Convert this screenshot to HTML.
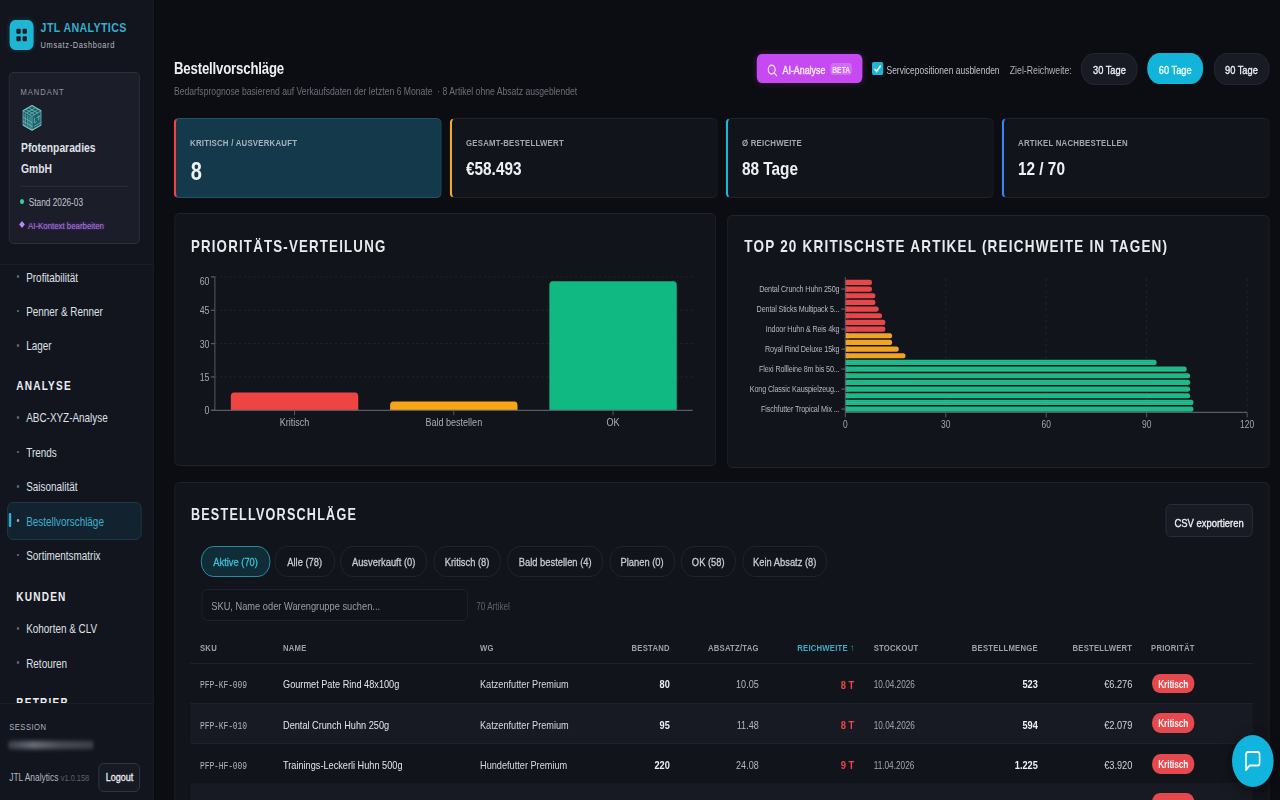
<!DOCTYPE html>
<html lang="de"><head><meta charset="utf-8"><title>Bestellvorschläge – JTL Analytics</title>
<style>
html,body{margin:0;padding:0;width:1280px;height:800px;overflow:hidden;background:#0c0d12;}
#root{position:absolute;left:0;top:0;width:1600px;height:800px;overflow:hidden;transform:scaleX(0.8);transform-origin:0 0;font-family:"Liberation Sans", Arial, sans-serif;}
.t{position:absolute;white-space:nowrap;line-height:1;}
.b{position:absolute;}
</style></head><body><div id="root">
<div class="b" style="left:0.00px;top:0.00px;width:190.50px;height:800.00px;background:#12151e;border-right:1.25px solid #1f222b;box-sizing:border-box;width:191.75px"></div>
<div class="b" style="left:11.5px;top:20px;width:30px;height:30px;border-radius:7px;background:#1fb6d6;box-shadow:0 0 6px rgba(34,180,213,.25)">
<svg width="30" height="30" viewBox="0 0 30 30" style="position:absolute;left:0;top:0">
<rect x="8.5" y="8.8" width="5.4" height="5" rx="1.2" fill="#0d1a22"/><rect x="16.2" y="8.8" width="5.4" height="5" rx="1.2" fill="#0d1a22"/>
<rect x="8.5" y="16.2" width="5.4" height="5" rx="1.2" fill="#0d1a22"/><rect x="16.2" y="16.2" width="5.4" height="5" rx="1.2" fill="#0d1a22"/>
</svg></div>
<div class="t" style="top:21.00px;font-size:13.3px;font-weight:700;color:#33aecd;letter-spacing:0.47px;left:50.75px;">JTL ANALYTICS</div>
<div class="t" style="top:41.00px;font-size:9.3px;font-weight:400;color:#b4b8c2;letter-spacing:0.8px;left:50.75px;">Umsatz-Dashboard</div>
<div class="b" style="left:11.25px;top:72.00px;width:163.45px;height:172.00px;border:1px solid #2c303c;border-radius:6px/5px;background:#1b1d29;box-sizing:border-box"></div>
<div class="t" style="top:87.00px;font-size:9.45px;font-weight:400;color:#9197a3;letter-spacing:1.2px;left:25.75px;">MANDANT</div>
<svg class="b" style="left:27.6px;top:105px" width="24" height="26" viewBox="0 0 24 26">
<path d="M12 0.6 L23.4 5.8 L23.4 19.9 L12 25.3 L0.6 19.9 L0.6 5.8 Z" fill="#215f68" stroke="#86cfd2" stroke-width="1.1" stroke-linejoin="round"/>
<g fill="none" stroke="#6cc4c9" stroke-width="0.9" opacity=".9">
<path d="M0.6 5.8 L12 11.2 L23.4 5.8 M12 11.2 L12 25.3"/>
<path d="M4 4.3 L15.4 9.6 M7.5 2.7 L18.9 8 M8.5 9.6 L19.9 4.3 M5 8 L16.4 2.7"/>
<path d="M3.5 8.5 L3.5 21.3 M6.8 10 L6.8 22.8 M9.6 11.4 L9.6 24.2 M0.6 12 L12 17.4 M0.6 16 L12 21.4"/>
<path d="M15 12.7 L15 18 L18 16.6 M20.5 10.5 L20.5 15.5 M14.5 21.5 L22.5 17.7 M17.5 13 L22.8 10.5"/>
</g></svg>
<div class="t" style="top:142.00px;font-size:12.9px;font-weight:700;color:#dfe1e7;left:26.25px;">Pfotenparadies</div>
<div class="t" style="top:163.00px;font-size:12.9px;font-weight:700;color:#dfe1e7;left:26.25px;">GmbH</div>
<div class="b" style="left:25.75px;top:185.50px;width:134.25px;height:1.00px;background:#262a35"></div>
<div class="b" style="left:25.30px;top:199.00px;width:5.20px;height:5.30px;border-radius:50%;background:#34d3a0"></div>
<div class="t" style="top:198.00px;font-size:10.35px;font-weight:400;color:#c3c6ce;left:35.94px;">Stand 2026-03</div>
<div class="b" style="left:25.30px;top:222.30px;width:5.00px;height:5.00px;background:#c084fc;transform:rotate(45deg)"></div>
<div class="t" style="top:221.00px;font-size:9.8px;font-weight:400;color:#b07ce6;left:35.12px;text-shadow:0 0 4px rgba(168,85,247,.6)">AI-Kontext bearbeiten</div>
<div class="b" style="left:0.00px;top:264.00px;width:190.50px;height:1.00px;background:#1c1f28"></div>
<div class="b" style="left:20.60px;top:275.40px;width:3.40px;height:2.90px;border-radius:50%;background:#5f6470"></div>
<div class="t" style="top:272.00px;font-size:12.4px;font-weight:400;color:#dfe1e6;left:32.75px;">Profitabilität</div>
<div class="b" style="left:20.60px;top:309.60px;width:3.40px;height:2.90px;border-radius:50%;background:#5f6470"></div>
<div class="t" style="top:306.00px;font-size:12.4px;font-weight:400;color:#dfe1e6;left:32.75px;">Penner &amp; Renner</div>
<div class="b" style="left:20.60px;top:344.00px;width:3.40px;height:2.90px;border-radius:50%;background:#5f6470"></div>
<div class="t" style="top:340.00px;font-size:12.4px;font-weight:400;color:#dfe1e6;left:32.75px;">Lager</div>
<div class="t" style="top:380.00px;font-size:12.6px;font-weight:700;color:#eceef2;letter-spacing:1.5px;left:20.31px;">ANALYSE</div>
<div class="b" style="left:20.60px;top:416.20px;width:3.40px;height:2.90px;border-radius:50%;background:#5f6470"></div>
<div class="t" style="top:412.00px;font-size:12.4px;font-weight:400;color:#dfe1e6;left:32.75px;">ABC-XYZ-Analyse</div>
<div class="b" style="left:20.60px;top:450.50px;width:3.40px;height:2.90px;border-radius:50%;background:#5f6470"></div>
<div class="t" style="top:447.00px;font-size:12.4px;font-weight:400;color:#dfe1e6;left:32.75px;">Trends</div>
<div class="b" style="left:20.60px;top:484.80px;width:3.40px;height:2.90px;border-radius:50%;background:#5f6470"></div>
<div class="t" style="top:481.00px;font-size:12.4px;font-weight:400;color:#dfe1e6;left:32.75px;">Saisonalität</div>
<div class="b" style="left:9.40px;top:502.00px;width:167.20px;height:38.00px;border:1px solid #1a3d4a;border-radius:7px;background:#13222f;box-sizing:border-box"></div>
<div class="b" style="left:10.90px;top:512.50px;width:3.10px;height:14.50px;background:#2bb5d5;border-radius:1px"></div>
<div class="b" style="left:20.60px;top:519.20px;width:3.40px;height:2.90px;border-radius:50%;background:#8fb0bb"></div>
<div class="t" style="top:516.00px;font-size:12.4px;font-weight:400;color:#3cb0cf;left:32.75px;">Bestellvorschläge</div>
<div class="b" style="left:20.60px;top:553.60px;width:3.40px;height:2.90px;border-radius:50%;background:#5f6470"></div>
<div class="t" style="top:550.00px;font-size:12.4px;font-weight:400;color:#dfe1e6;left:32.75px;">Sortimentsmatrix</div>
<div class="t" style="top:591.00px;font-size:12.6px;font-weight:700;color:#eceef2;letter-spacing:1.5px;left:20.31px;">KUNDEN</div>
<div class="b" style="left:20.60px;top:626.90px;width:3.40px;height:2.90px;border-radius:50%;background:#5f6470"></div>
<div class="t" style="top:623.00px;font-size:12.4px;font-weight:400;color:#dfe1e6;left:32.75px;">Kohorten &amp; CLV</div>
<div class="b" style="left:20.60px;top:661.20px;width:3.40px;height:2.90px;border-radius:50%;background:#5f6470"></div>
<div class="t" style="top:658.00px;font-size:12.4px;font-weight:400;color:#dfe1e6;left:32.75px;">Retouren</div>
<div class="b" style="left:0;top:690px;width:190px;height:13px;overflow:hidden"><div class="t" style="left:20.31px;top:6.83px;font-size:12.6px;font-weight:700;color:#eceef2;letter-spacing:1.5px">BETRIEB</div></div>
<div class="b" style="left:0.00px;top:702.50px;width:190.50px;height:1.00px;background:#1c1f28"></div>
<div class="t" style="top:722.00px;font-size:9.6px;font-weight:400;color:#aeb2ba;letter-spacing:0.55px;left:11.50px;">SESSION</div>
<div class="b" style="left:10.00px;top:741.00px;width:107.00px;height:7.50px;background:linear-gradient(90deg,#3a3e48,#6a6e78 30%,#4a4e58 60%,#3c404a);filter:blur(2.2px);border-radius:3px"></div>
<div class="t" style="top:772.00px;font-size:10.5px;font-weight:400;color:#b4b8c0;left:11.50px;">JTL Analytics <span style="font-size:9.3px;color:#5d626c">v1.0.158</span></div>
<div class="b" style="left:122.90px;top:763.20px;width:52.10px;height:28.40px;border:1px solid #343845;border-radius:6px;background:#171a23;box-sizing:border-box"></div>
<div class="t" style="top:772.00px;font-size:11.3px;font-weight:400;color:#eceef2;left:132.12px;-webkit-text-stroke:0.3px currentColor">Logout</div>
<div class="t" style="top:60.00px;font-size:16.5px;font-weight:700;color:#eeeff3;letter-spacing:-0.22px;left:217.50px;">Bestellvorschläge</div>
<div class="t" style="top:86.00px;font-size:10.77px;font-weight:400;color:#6a6f7a;left:217.50px;">Bedarfsprognose basierend auf Verkaufsdaten der letzten 6 Monate &nbsp;· 8 Artikel ohne Absatz ausgeblendet</div>
<div class="b" style="left:946.38px;top:54.10px;width:131.50px;height:29.10px;border-radius:6px;background:#c649f2;box-shadow:0 0 8px rgba(198,73,242,.25)"></div>
<svg class="b" style="left:959.38px;top:63.5px" width="13" height="13" viewBox="0 0 13 13"><circle cx="5.6" cy="5.6" r="4.3" fill="none" stroke="#f6e3fb" stroke-width="1.5"/><path d="M8.8 8.8 L11.8 11.8" stroke="#f6e3fb" stroke-width="1.5" stroke-linecap="round"/></svg>
<div class="t" style="top:65.00px;font-size:11.1px;font-weight:400;color:#fdf2ff;left:978.12px;-webkit-text-stroke:0.4px currentColor">AI-Analyse</div>
<div class="b" style="left:1038.00px;top:62.50px;width:27.00px;height:12.80px;border-radius:4px;background:rgba(255,255,255,.2)"></div>
<div class="t" style="top:66.00px;font-size:8.4px;font-weight:700;color:#fdf0ff;letter-spacing:0.1px;left:651.50px;width:800px;text-align:center;">BETA</div>
<div class="b" style="left:1089.88px;top:62.3px;width:13.9px;height:13.2px;border-radius:2px;background:#1fb4d4">
<svg width="14" height="13" viewBox="0 0 14 13" style="position:absolute;left:0;top:0"><path d="M3.2 6.8 L5.8 9.4 L10.8 3.6" fill="none" stroke="#e9fbff" stroke-width="1.8"/></svg></div>
<div class="t" style="top:65.00px;font-size:10.6px;font-weight:400;color:#c1c4cc;left:1108.12px;">Servicepositionen ausblenden</div>
<div class="t" style="top:65.00px;font-size:10.9px;font-weight:400;color:#b0b4bc;left:1262.25px;">Ziel-Reichweite:</div>
<div class="b" style="left:1351.25px;top:53.30px;width:71.00px;height:31.50px;border-radius:16px;background:#181a24;border:1px solid #262935;box-sizing:border-box"></div>
<div class="t" style="top:64.00px;font-size:11.6px;font-weight:400;color:#eef0f4;left:986.75px;width:800px;text-align:center;-webkit-text-stroke:0.35px currentColor">30 Tage</div>
<div class="b" style="left:1433.75px;top:53.30px;width:70.62px;height:31.10px;border-radius:16px;background:#12b4da"></div>
<div class="t" style="top:64.00px;font-size:11.6px;font-weight:400;color:#effbfe;left:1069.06px;width:800px;text-align:center;-webkit-text-stroke:0.35px currentColor">60 Tage</div>
<div class="b" style="left:1516.62px;top:53.30px;width:70.25px;height:31.50px;border-radius:16px;background:#181a24;border:1px solid #262935;box-sizing:border-box"></div>
<div class="t" style="top:64.00px;font-size:11.6px;font-weight:400;color:#eef0f4;left:1151.75px;width:800px;text-align:center;-webkit-text-stroke:0.35px currentColor">90 Tage</div>
<div class="b" style="left:216.90px;top:118.30px;width:335.20px;height:80.20px;background:#14394a;border:1px solid #1f5466;border-left:3px solid #ef4444;border-radius:6.5px/5.5px;box-sizing:border-box"></div>
<div class="t" style="top:138.00px;font-size:9.8px;font-weight:700;color:#a6b4be;letter-spacing:0.27px;left:237.50px;">KRITISCH / AUSVERKAUFT</div>
<div class="t" style="top:159.00px;font-size:25px;font-weight:700;color:#f0f4f6;left:238.40px;">8</div>
<div class="b" style="left:561.90px;top:118.30px;width:335.20px;height:80.20px;background:#12141c;border:1px solid #1f222b;border-left:3px solid #f0a830;border-radius:6.5px/5.5px;box-sizing:border-box"></div>
<div class="t" style="top:138.00px;font-size:9.8px;font-weight:700;color:#a3a7b0;letter-spacing:0.27px;left:582.50px;">GESAMT-BESTELLWERT</div>
<div class="t" style="top:159.00px;font-size:19.2px;font-weight:700;color:#eef0f3;left:582.50px;">€58.493</div>
<div class="b" style="left:906.90px;top:118.30px;width:335.20px;height:80.20px;background:#12141c;border:1px solid #1f222b;border-left:3px solid #22b5d6;border-radius:6.5px/5.5px;box-sizing:border-box"></div>
<div class="t" style="top:138.00px;font-size:9.8px;font-weight:700;color:#a3a7b0;letter-spacing:0.27px;left:927.50px;">Ø REICHWEITE</div>
<div class="t" style="top:159.00px;font-size:19.2px;font-weight:700;color:#eef0f3;left:927.50px;">88 Tage</div>
<div class="b" style="left:1251.90px;top:118.30px;width:335.20px;height:80.20px;background:#12141c;border:1px solid #1f222b;border-left:3px solid #3b82f6;border-radius:6.5px/5.5px;box-sizing:border-box"></div>
<div class="t" style="top:138.00px;font-size:9.8px;font-weight:700;color:#a3a7b0;letter-spacing:0.27px;left:1272.50px;">ARTIKEL NACHBESTELLEN</div>
<div class="t" style="top:159.00px;font-size:19.2px;font-weight:700;color:#eef0f3;left:1272.50px;">12 / 70</div>
<div class="b" style="left:217.50px;top:212.50px;width:677.80px;height:253.10px;background:#12141c;border:1px solid #1f222b;border-radius:6.5px/5.5px;box-sizing:border-box"></div>
<div class="b" style="left:909.25px;top:214.50px;width:677.65px;height:253.00px;background:#12141c;border:1px solid #1f222b;border-radius:6.5px/5.5px;box-sizing:border-box"></div>
<div class="t" style="top:239.00px;font-size:16.6px;font-weight:700;color:#e8eaee;letter-spacing:1.5px;left:238.62px;">PRIORITÄTS-VERTEILUNG</div>
<div class="t" style="top:239.00px;font-size:16.9px;font-weight:700;color:#e8eaee;letter-spacing:1.5px;left:930.37px;">TOP 20 KRITISCHSTE ARTIKEL (REICHWEITE IN TAGEN)</div>
<svg class="b" style="left:0;top:0" width="1600" height="800" viewBox="0 0 1600 800">
<line x1="268.625" y1="376.95" x2="865.875" y2="376.95" stroke="#23262f" stroke-width="1" stroke-dasharray="3 3"/>
<line x1="268.625" y1="343.60" x2="865.875" y2="343.60" stroke="#23262f" stroke-width="1" stroke-dasharray="3 3"/>
<line x1="268.625" y1="310.25" x2="865.875" y2="310.25" stroke="#23262f" stroke-width="1" stroke-dasharray="3 3"/>
<line x1="268.625" y1="276.90" x2="865.875" y2="276.90" stroke="#23262f" stroke-width="1" stroke-dasharray="3 3"/>
<line x1="268.625" y1="276.4" x2="268.625" y2="410.3" stroke="#585c66" stroke-width="1.2"/>
<line x1="263.625" y1="410.30" x2="268.625" y2="410.30" stroke="#585c66" stroke-width="1.2"/>
<text x="261.88" y="414.50" text-anchor="end" font-size="11" fill="#a4a8b1" font-family="Liberation Sans, Arial, sans-serif">0</text>
<line x1="263.625" y1="376.95" x2="268.625" y2="376.95" stroke="#585c66" stroke-width="1.2"/>
<text x="261.88" y="381.15" text-anchor="end" font-size="11" fill="#a4a8b1" font-family="Liberation Sans, Arial, sans-serif">15</text>
<line x1="263.625" y1="343.60" x2="268.625" y2="343.60" stroke="#585c66" stroke-width="1.2"/>
<text x="261.88" y="347.80" text-anchor="end" font-size="11" fill="#a4a8b1" font-family="Liberation Sans, Arial, sans-serif">30</text>
<line x1="263.625" y1="310.25" x2="268.625" y2="310.25" stroke="#585c66" stroke-width="1.2"/>
<text x="261.88" y="314.45" text-anchor="end" font-size="11" fill="#a4a8b1" font-family="Liberation Sans, Arial, sans-serif">45</text>
<line x1="263.625" y1="276.90" x2="268.625" y2="276.90" stroke="#585c66" stroke-width="1.2"/>
<text x="261.88" y="285.20" text-anchor="end" font-size="11" fill="#a4a8b1" font-family="Liberation Sans, Arial, sans-serif">60</text>
<path d="M288.53 410.3 L288.53 396.51 Q288.53 392.51 292.53 392.51 L443.80 392.51 Q447.80 392.51 447.80 396.51 L447.80 410.3 Z" fill="#ef4444"/>
<line x1="368.17" y1="410.3" x2="368.17" y2="415.3" stroke="#585c66" stroke-width="1.2"/>
<text x="368.17" y="426.50" text-anchor="middle" font-size="11.3" fill="#a9adb6" font-family="Liberation Sans, Arial, sans-serif">Kritisch</text>
<path d="M487.62 410.3 L487.62 405.41 Q487.62 401.41 491.62 401.41 L642.88 401.41 Q646.88 401.41 646.88 405.41 L646.88 410.3 Z" fill="#f5a516"/>
<line x1="567.25" y1="410.3" x2="567.25" y2="415.3" stroke="#585c66" stroke-width="1.2"/>
<text x="567.25" y="426.50" text-anchor="middle" font-size="11.3" fill="#a9adb6" font-family="Liberation Sans, Arial, sans-serif">Bald bestellen</text>
<path d="M686.70 410.3 L686.70 285.35 Q686.70 281.35 690.70 281.35 L841.97 281.35 Q845.97 281.35 845.97 285.35 L845.97 410.3 Z" fill="#10b981"/>
<line x1="766.33" y1="410.3" x2="766.33" y2="415.3" stroke="#585c66" stroke-width="1.2"/>
<text x="766.33" y="426.50" text-anchor="middle" font-size="11.3" fill="#a9adb6" font-family="Liberation Sans, Arial, sans-serif">OK</text>
<line x1="263.625" y1="410.3" x2="865.875" y2="410.3" stroke="#585c66" stroke-width="1.2"/>
<line x1="1182.19" y1="278.1" x2="1182.19" y2="412.4" stroke="#23262f" stroke-width="1" stroke-dasharray="3 3"/>
<line x1="1307.75" y1="278.1" x2="1307.75" y2="412.4" stroke="#23262f" stroke-width="1" stroke-dasharray="3 3"/>
<line x1="1433.31" y1="278.1" x2="1433.31" y2="412.4" stroke="#23262f" stroke-width="1" stroke-dasharray="3 3"/>
<line x1="1558.87" y1="278.1" x2="1558.87" y2="412.4" stroke="#23262f" stroke-width="1" stroke-dasharray="3 3"/>
<rect x="1056.62" y="279.83" width="33.48" height="5.20" rx="2.60" fill="#e8474a"/>
<rect x="1056.62" y="279.83" width="4" height="5.20" fill="#e8474a"/>
<rect x="1056.62" y="286.50" width="33.48" height="5.20" rx="2.60" fill="#e8474a"/>
<rect x="1056.62" y="286.50" width="4" height="5.20" fill="#e8474a"/>
<rect x="1056.62" y="293.16" width="37.67" height="5.20" rx="2.60" fill="#e8474a"/>
<rect x="1056.62" y="293.16" width="4" height="5.20" fill="#e8474a"/>
<rect x="1056.62" y="299.83" width="37.67" height="5.20" rx="2.60" fill="#e8474a"/>
<rect x="1056.62" y="299.83" width="4" height="5.20" fill="#e8474a"/>
<rect x="1056.62" y="306.49" width="41.85" height="5.20" rx="2.60" fill="#e8474a"/>
<rect x="1056.62" y="306.49" width="4" height="5.20" fill="#e8474a"/>
<rect x="1056.62" y="313.16" width="46.04" height="5.20" rx="2.60" fill="#e8474a"/>
<rect x="1056.62" y="313.16" width="4" height="5.20" fill="#e8474a"/>
<rect x="1056.62" y="319.82" width="50.22" height="5.20" rx="2.60" fill="#e8474a"/>
<rect x="1056.62" y="319.82" width="4" height="5.20" fill="#e8474a"/>
<rect x="1056.62" y="326.49" width="50.22" height="5.20" rx="2.60" fill="#e8474a"/>
<rect x="1056.62" y="326.49" width="4" height="5.20" fill="#e8474a"/>
<rect x="1056.62" y="333.15" width="58.60" height="5.20" rx="2.60" fill="#f0a324"/>
<rect x="1056.62" y="333.15" width="4" height="5.20" fill="#f0a324"/>
<rect x="1056.62" y="339.82" width="58.60" height="5.20" rx="2.60" fill="#f0a324"/>
<rect x="1056.62" y="339.82" width="4" height="5.20" fill="#f0a324"/>
<rect x="1056.62" y="346.48" width="66.97" height="5.20" rx="2.60" fill="#f0a324"/>
<rect x="1056.62" y="346.48" width="4" height="5.20" fill="#f0a324"/>
<rect x="1056.62" y="353.15" width="75.34" height="5.20" rx="2.60" fill="#f0a324"/>
<rect x="1056.62" y="353.15" width="4" height="5.20" fill="#f0a324"/>
<rect x="1056.62" y="359.81" width="389.24" height="5.20" rx="2.60" fill="#1fb886"/>
<rect x="1056.62" y="359.81" width="4" height="5.20" fill="#1fb886"/>
<rect x="1056.62" y="366.48" width="426.91" height="5.20" rx="2.60" fill="#1fb886"/>
<rect x="1056.62" y="366.48" width="4" height="5.20" fill="#1fb886"/>
<rect x="1056.62" y="373.14" width="431.10" height="5.20" rx="2.60" fill="#1fb886"/>
<rect x="1056.62" y="373.14" width="4" height="5.20" fill="#1fb886"/>
<rect x="1056.62" y="379.81" width="431.10" height="5.20" rx="2.60" fill="#1fb886"/>
<rect x="1056.62" y="379.81" width="4" height="5.20" fill="#1fb886"/>
<rect x="1056.62" y="386.47" width="431.10" height="5.20" rx="2.60" fill="#1fb886"/>
<rect x="1056.62" y="386.47" width="4" height="5.20" fill="#1fb886"/>
<rect x="1056.62" y="393.14" width="431.10" height="5.20" rx="2.60" fill="#1fb886"/>
<rect x="1056.62" y="393.14" width="4" height="5.20" fill="#1fb886"/>
<rect x="1056.62" y="399.80" width="435.28" height="5.20" rx="2.60" fill="#1fb886"/>
<rect x="1056.62" y="399.80" width="4" height="5.20" fill="#1fb886"/>
<rect x="1056.62" y="406.47" width="435.28" height="5.20" rx="2.60" fill="#1fb886"/>
<rect x="1056.62" y="406.47" width="4" height="5.20" fill="#1fb886"/>
<line x1="1051.62" y1="289.10" x2="1056.62" y2="289.10" stroke="#585c66" stroke-width="1.2"/>
<text x="1049.25" y="292.50" text-anchor="end" font-size="9" letter-spacing="-0.15" fill="#b5b9c2" font-family="Liberation Sans, Arial, sans-serif">Dental Crunch Huhn 250g</text>
<line x1="1051.62" y1="309.09" x2="1056.62" y2="309.09" stroke="#585c66" stroke-width="1.2"/>
<text x="1049.25" y="312.49" text-anchor="end" font-size="9" letter-spacing="-0.15" fill="#b5b9c2" font-family="Liberation Sans, Arial, sans-serif">Dental Sticks Multipack 5...</text>
<line x1="1051.62" y1="329.09" x2="1056.62" y2="329.09" stroke="#585c66" stroke-width="1.2"/>
<text x="1049.25" y="332.49" text-anchor="end" font-size="9" letter-spacing="-0.15" fill="#b5b9c2" font-family="Liberation Sans, Arial, sans-serif">Indoor Huhn &amp; Reis 4kg</text>
<line x1="1051.62" y1="349.08" x2="1056.62" y2="349.08" stroke="#585c66" stroke-width="1.2"/>
<text x="1049.25" y="352.48" text-anchor="end" font-size="9" letter-spacing="-0.15" fill="#b5b9c2" font-family="Liberation Sans, Arial, sans-serif">Royal Rind Deluxe 15kg</text>
<line x1="1051.62" y1="369.08" x2="1056.62" y2="369.08" stroke="#585c66" stroke-width="1.2"/>
<text x="1049.25" y="372.48" text-anchor="end" font-size="9" letter-spacing="-0.15" fill="#b5b9c2" font-family="Liberation Sans, Arial, sans-serif">Flexi Rollleine 8m bis 50...</text>
<line x1="1051.62" y1="389.07" x2="1056.62" y2="389.07" stroke="#585c66" stroke-width="1.2"/>
<text x="1049.25" y="392.47" text-anchor="end" font-size="9" letter-spacing="-0.15" fill="#b5b9c2" font-family="Liberation Sans, Arial, sans-serif">Kong Classic Kauspielzeug...</text>
<line x1="1051.62" y1="409.07" x2="1056.62" y2="409.07" stroke="#585c66" stroke-width="1.2"/>
<text x="1049.25" y="412.47" text-anchor="end" font-size="9" letter-spacing="-0.15" fill="#b5b9c2" font-family="Liberation Sans, Arial, sans-serif">Fischfutter Tropical Mix ...</text>
<line x1="1056.62" y1="277.1" x2="1056.62" y2="412.4" stroke="#585c66" stroke-width="1.2"/>
<line x1="1056.62" y1="412.4" x2="1558.87" y2="412.4" stroke="#585c66" stroke-width="1.2"/>
<line x1="1056.62" y1="412.4" x2="1056.62" y2="417.4" stroke="#585c66" stroke-width="1.2"/>
<text x="1056.62" y="428" text-anchor="middle" font-size="10.5" fill="#a4a8b1" font-family="Liberation Sans, Arial, sans-serif">0</text>
<line x1="1182.19" y1="412.4" x2="1182.19" y2="417.4" stroke="#585c66" stroke-width="1.2"/>
<text x="1182.19" y="428" text-anchor="middle" font-size="10.5" fill="#a4a8b1" font-family="Liberation Sans, Arial, sans-serif">30</text>
<line x1="1307.75" y1="412.4" x2="1307.75" y2="417.4" stroke="#585c66" stroke-width="1.2"/>
<text x="1307.75" y="428" text-anchor="middle" font-size="10.5" fill="#a4a8b1" font-family="Liberation Sans, Arial, sans-serif">60</text>
<line x1="1433.31" y1="412.4" x2="1433.31" y2="417.4" stroke="#585c66" stroke-width="1.2"/>
<text x="1433.31" y="428" text-anchor="middle" font-size="10.5" fill="#a4a8b1" font-family="Liberation Sans, Arial, sans-serif">90</text>
<line x1="1558.87" y1="412.4" x2="1558.87" y2="417.4" stroke="#585c66" stroke-width="1.2"/>
<text x="1558.87" y="428" text-anchor="middle" font-size="10.5" fill="#a4a8b1" font-family="Liberation Sans, Arial, sans-serif">120</text>
</svg>
<div class="b" style="left:217.50px;top:482.00px;width:1369.00px;height:348.00px;background:#12141c;border:1px solid #1f222b;border-radius:6.5px/5.5px;box-sizing:border-box"></div>
<div class="t" style="top:507.00px;font-size:15.8px;font-weight:700;color:#e8eaee;letter-spacing:1.5px;left:238.62px;">BESTELLVORSCHLÄGE</div>
<div class="b" style="left:1456.62px;top:504.00px;width:109.38px;height:32.90px;border:1px solid #2b2e3a;border-radius:6px;background:#181a24;box-sizing:border-box"></div>
<div class="t" style="top:518.00px;font-size:11.8px;font-weight:400;color:#eceef2;left:1111.31px;width:800px;text-align:center;-webkit-text-stroke:0.35px currentColor">CSV exportieren</div>
<div class="b" style="left:251.37px;top:545.90px;width:86.25px;height:31.20px;border:1.5px solid #2a97ad;border-radius:16px;background:#0f2c37;box-sizing:border-box"></div>
<div class="t" style="top:556.00px;font-size:11.7px;font-weight:400;color:#3cc0dc;left:-105.50px;width:800px;text-align:center;-webkit-text-stroke:0.3px currentColor">Aktive (70)</div>
<div class="b" style="left:343.00px;top:545.90px;width:75.62px;height:31.20px;border:1px solid #22252f;border-radius:16px;background:#12141c;box-sizing:border-box"></div>
<div class="t" style="top:556.00px;font-size:11.7px;font-weight:400;color:#c8cbd2;left:-19.19px;width:800px;text-align:center;-webkit-text-stroke:0.3px currentColor">Alle (78)</div>
<div class="b" style="left:425.25px;top:545.90px;width:108.63px;height:31.20px;border:1px solid #22252f;border-radius:16px;background:#12141c;box-sizing:border-box"></div>
<div class="t" style="top:556.00px;font-size:11.7px;font-weight:400;color:#c8cbd2;left:79.56px;width:800px;text-align:center;-webkit-text-stroke:0.3px currentColor">Ausverkauft (0)</div>
<div class="b" style="left:542.00px;top:545.90px;width:83.75px;height:31.20px;border:1px solid #22252f;border-radius:16px;background:#12141c;box-sizing:border-box"></div>
<div class="t" style="top:556.00px;font-size:11.7px;font-weight:400;color:#c8cbd2;left:183.88px;width:800px;text-align:center;-webkit-text-stroke:0.3px currentColor">Kritisch (8)</div>
<div class="b" style="left:634.25px;top:545.90px;width:119.50px;height:31.20px;border:1px solid #22252f;border-radius:16px;background:#12141c;box-sizing:border-box"></div>
<div class="t" style="top:556.00px;font-size:11.7px;font-weight:400;color:#c8cbd2;left:294.00px;width:800px;text-align:center;-webkit-text-stroke:0.3px currentColor">Bald bestellen (4)</div>
<div class="b" style="left:761.75px;top:545.90px;width:81.75px;height:31.20px;border:1px solid #22252f;border-radius:16px;background:#12141c;box-sizing:border-box"></div>
<div class="t" style="top:556.00px;font-size:11.7px;font-weight:400;color:#c8cbd2;left:402.62px;width:800px;text-align:center;-webkit-text-stroke:0.3px currentColor">Planen (0)</div>
<div class="b" style="left:850.75px;top:545.90px;width:69.12px;height:31.20px;border:1px solid #22252f;border-radius:16px;background:#12141c;box-sizing:border-box"></div>
<div class="t" style="top:556.00px;font-size:11.7px;font-weight:400;color:#c8cbd2;left:485.31px;width:800px;text-align:center;-webkit-text-stroke:0.3px currentColor">OK (58)</div>
<div class="b" style="left:927.75px;top:545.90px;width:106.25px;height:31.20px;border:1px solid #22252f;border-radius:16px;background:#12141c;box-sizing:border-box"></div>
<div class="t" style="top:556.00px;font-size:11.7px;font-weight:400;color:#c8cbd2;left:580.88px;width:800px;text-align:center;-webkit-text-stroke:0.3px currentColor">Kein Absatz (8)</div>
<div class="b" style="left:251.88px;top:588.80px;width:333.25px;height:32.50px;border:1px solid #20232d;border-radius:7px;background:#11131a;box-sizing:border-box"></div>
<div class="t" style="top:600.00px;font-size:11.6px;font-weight:400;color:#9a9ea7;left:264.12px;">SKU, Name oder Warengruppe suchen...</div>
<div class="t" style="top:602.00px;font-size:10.2px;font-weight:400;color:#5d616b;left:595.38px;">70 Artikel</div>
<div class="t" style="top:643.00px;font-size:9.6px;font-weight:700;color:#9ca0aa;letter-spacing:0.3px;left:250.00px;">SKU</div>
<div class="t" style="top:643.00px;font-size:9.6px;font-weight:700;color:#9ca0aa;letter-spacing:0.3px;left:353.75px;">NAME</div>
<div class="t" style="top:643.00px;font-size:9.6px;font-weight:700;color:#9ca0aa;letter-spacing:0.3px;left:600.00px;">WG</div>
<div class="t" style="top:643.00px;font-size:9.6px;font-weight:700;color:#9ca0aa;letter-spacing:0.3px;right:762.75px;text-align:right;">BESTAND</div>
<div class="t" style="top:643.00px;font-size:9.6px;font-weight:700;color:#9ca0aa;letter-spacing:0.3px;right:651.62px;text-align:right;">ABSATZ/TAG</div>
<div class="t" style="top:643.00px;font-size:9.6px;font-weight:700;color:#3aaec8;letter-spacing:0.3px;right:532.13px;text-align:right;">REICHWEITE ↑</div>
<div class="t" style="top:643.00px;font-size:9.6px;font-weight:700;color:#9ca0aa;letter-spacing:0.3px;left:1092.12px;">STOCKOUT</div>
<div class="t" style="top:643.00px;font-size:9.6px;font-weight:700;color:#9ca0aa;letter-spacing:0.3px;right:302.75px;text-align:right;">BESTELLMENGE</div>
<div class="t" style="top:643.00px;font-size:9.6px;font-weight:700;color:#9ca0aa;letter-spacing:0.3px;right:184.63px;text-align:right;">BESTELLWERT</div>
<div class="t" style="top:643.00px;font-size:9.6px;font-weight:700;color:#9ca0aa;letter-spacing:0.3px;left:1438.87px;">PRIORITÄT</div>
<div class="b" style="left:237.50px;top:663.20px;width:1328.62px;height:1.00px;background:#1e212a"></div>
<div class="b" style="left:237.50px;top:703.30px;width:1328.62px;height:1.00px;background:#1e212a"></div>
<div class="t" style="top:681.00px;font-size:10px;font-weight:400;color:#aeb2bb;letter-spacing:-0.14px;font-family:'Liberation Mono', 'DejaVu Sans Mono', monospace;left:250.00px;">PFP-KF-009</div>
<div class="t" style="top:679.00px;font-size:11.47px;font-weight:400;color:#e3e5ea;left:353.75px;">Gourmet Pate Rind 48x100g</div>
<div class="t" style="top:679.00px;font-size:11.47px;font-weight:400;color:#d5d8de;left:600.00px;">Katzenfutter Premium</div>
<div class="t" style="top:679.00px;font-size:11.5px;font-weight:700;color:#eceef2;right:762.75px;text-align:right;">80</div>
<div class="t" style="top:679.00px;font-size:11.3px;font-weight:400;color:#b3b7bf;right:651.62px;text-align:right;">10.05</div>
<div class="t" style="top:680.00px;font-size:11.8px;font-weight:700;color:#ef4444;right:532.13px;text-align:right;">8 T</div>
<div class="t" style="top:680.00px;font-size:10.3px;font-weight:400;color:#a3a7b0;left:1092.12px;">10.04.2026</div>
<div class="t" style="top:679.00px;font-size:11.5px;font-weight:700;color:#eef0f3;right:302.75px;text-align:right;">523</div>
<div class="t" style="top:679.00px;font-size:11.5px;font-weight:400;color:#d3d6dc;right:184.63px;text-align:right;">€6.276</div>
<div class="b" style="left:1439.62px;top:673.60px;width:53.75px;height:19.70px;border-radius:10px;background:#e5484d"></div>
<div class="t" style="top:680.00px;font-size:10.4px;font-weight:700;color:#fff3f3;letter-spacing:-0.15px;left:1066.50px;width:800px;text-align:center;">Kritisch</div>
<div class="b" style="left:237.50px;top:703.70px;width:1328.62px;height:39.60px;background:#181a23"></div>
<div class="b" style="left:237.50px;top:742.80px;width:1328.62px;height:1.00px;background:#1e212a"></div>
<div class="t" style="top:722.00px;font-size:10px;font-weight:400;color:#aeb2bb;letter-spacing:-0.14px;font-family:'Liberation Mono', 'DejaVu Sans Mono', monospace;left:250.00px;">PFP-KF-010</div>
<div class="t" style="top:720.00px;font-size:11.47px;font-weight:400;color:#e3e5ea;left:353.75px;">Dental Crunch Huhn 250g</div>
<div class="t" style="top:720.00px;font-size:11.47px;font-weight:400;color:#d5d8de;left:600.00px;">Katzenfutter Premium</div>
<div class="t" style="top:720.00px;font-size:11.5px;font-weight:700;color:#eceef2;right:762.75px;text-align:right;">95</div>
<div class="t" style="top:720.00px;font-size:11.3px;font-weight:400;color:#b3b7bf;right:651.62px;text-align:right;">11.48</div>
<div class="t" style="top:720.00px;font-size:11.8px;font-weight:700;color:#ef4444;right:532.13px;text-align:right;">8 T</div>
<div class="t" style="top:721.00px;font-size:10.3px;font-weight:400;color:#a3a7b0;left:1092.12px;">10.04.2026</div>
<div class="t" style="top:720.00px;font-size:11.5px;font-weight:700;color:#eef0f3;right:302.75px;text-align:right;">594</div>
<div class="t" style="top:720.00px;font-size:11.5px;font-weight:400;color:#d3d6dc;right:184.63px;text-align:right;">€2.079</div>
<div class="b" style="left:1439.62px;top:713.10px;width:53.75px;height:19.70px;border-radius:10px;background:#e5484d"></div>
<div class="t" style="top:719.00px;font-size:10.4px;font-weight:700;color:#fff3f3;letter-spacing:-0.15px;left:1066.50px;width:800px;text-align:center;">Kritisch</div>
<div class="b" style="left:237.50px;top:783.60px;width:1328.62px;height:1.00px;background:#1e212a"></div>
<div class="t" style="top:762.00px;font-size:10px;font-weight:400;color:#aeb2bb;letter-spacing:-0.14px;font-family:'Liberation Mono', 'DejaVu Sans Mono', monospace;left:250.00px;">PFP-HF-009</div>
<div class="t" style="top:760.00px;font-size:11.47px;font-weight:400;color:#e3e5ea;left:353.75px;">Trainings-Leckerli Huhn 500g</div>
<div class="t" style="top:760.00px;font-size:11.47px;font-weight:400;color:#d5d8de;left:600.00px;">Hundefutter Premium</div>
<div class="t" style="top:760.00px;font-size:11.5px;font-weight:700;color:#eceef2;right:762.75px;text-align:right;">220</div>
<div class="t" style="top:760.00px;font-size:11.3px;font-weight:400;color:#b3b7bf;right:651.62px;text-align:right;">24.08</div>
<div class="t" style="top:760.00px;font-size:11.8px;font-weight:700;color:#ef4444;right:532.13px;text-align:right;">9 T</div>
<div class="t" style="top:761.00px;font-size:10.3px;font-weight:400;color:#a3a7b0;left:1092.12px;">11.04.2026</div>
<div class="t" style="top:760.00px;font-size:11.5px;font-weight:700;color:#eef0f3;right:302.75px;text-align:right;">1.225</div>
<div class="t" style="top:760.00px;font-size:11.5px;font-weight:400;color:#d3d6dc;right:184.63px;text-align:right;">€3.920</div>
<div class="b" style="left:1439.62px;top:753.90px;width:53.75px;height:19.70px;border-radius:10px;background:#e5484d"></div>
<div class="t" style="top:760.00px;font-size:10.4px;font-weight:700;color:#fff3f3;letter-spacing:-0.15px;left:1066.50px;width:800px;text-align:center;">Kritisch</div>
<div class="b" style="left:237.50px;top:783.40px;width:1328.62px;height:39.60px;background:#181a23"></div>
<div class="b" style="left:237.50px;top:822.50px;width:1328.62px;height:1.00px;background:#1e212a"></div>
<div class="b" style="left:1439.62px;top:792.80px;width:53.75px;height:19.70px;border-radius:10px;background:#e5484d"></div>
<div class="b" style="left:1540.25px;top:735px;width:52px;height:52px;border-radius:50%;background:#10b4dc;box-shadow:0 4px 14px rgba(0,0,0,.5)">
<svg width="52" height="52" viewBox="0 0 52 52" style="position:absolute;left:0;top:0"><path d="M17.5 19.5 Q17.5 17 20 17 L32 17 Q34.5 17 34.5 19.5 L34.5 28 Q34.5 30.5 32 30.5 L22 30.5 L17.5 35 Z" fill="none" stroke="#ffffff" stroke-width="2" stroke-linejoin="round"/></svg></div>
</div></body></html>
